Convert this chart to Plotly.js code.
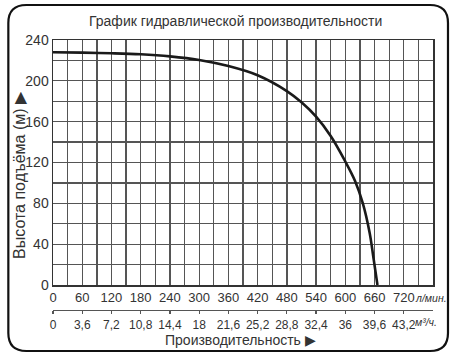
<!DOCTYPE html>
<html><head><meta charset="utf-8">
<script src="https://cdn.plot.ly/plotly-3.0.1.min.js"></script>
<style>body{margin:0;background:#fff}#c{width:456px;height:361px}</style>
</head><body><div id="c"></div>
<script>
// Data
var flowLpm = [0, 60, 120, 180, 240, 300, 360, 420, 480, 510, 540, 570, 600, 620, 636, 650, 658, 666];
var headM   = [228, 227.6, 227, 226, 224, 220.5, 214.5, 205.5, 190, 179, 165, 146, 121, 102, 80, 51, 26, 0];
var lpmTicks = [0, 60, 120, 180, 240, 300, 360, 420, 480, 540, 600, 660, 720];
var lpmLabels = ['0','60','120','180','240','300','360','420','480','540','600','660','720'];
var m3hTicks = [0, 3.6, 7.2, 10.8, 14.4, 18, 21.6, 25.2, 28.8, 32.4, 36, 39.6, 43.2];
var m3hLabels = ['0','3,6','7,2','10,8','14,4','18','21,6','25,2','28,8','32,4','36','39,6','43,2'];
var headTicks = [0, 40, 80, 120, 160, 200, 240];

var FONT = '"Liberation Sans", Arial, sans-serif';
var TXT = '#333';
var gridC = '#555555';

var traces = [
  {x: flowLpm, y: headM, type: 'scatter', mode: 'lines',
   line: {color: '#1a1a1a', width: 2.6, shape: 'spline', smoothing: 1},
   xaxis: 'x', yaxis: 'y', hoverinfo: 'skip'},
  {x: [0, 46.8], y: [null, null], type: 'scatter', mode: 'lines',
   xaxis: 'x2', yaxis: 'y', showlegend: false, hoverinfo: 'skip'},
  {x: [0, 780], y: [null, null], type: 'scatter', mode: 'lines',
   xaxis: 'x3', yaxis: 'y2', showlegend: false, hoverinfo: 'skip'}
];

var layout = {
  width: 456, height: 361,
  margin: {l: 52.7, r: 23, t: 40, b: 31},
  paper_bgcolor: '#fff', plot_bgcolor: '#fff',
  showlegend: false,
  font: {family: FONT, color: TXT, size: 13},
  xaxis: {
    range: [0, 780], tickvals: lpmTicks, ticktext: lpmLabels, tickangle: 0,
    showgrid: false,
    showline: true, linecolor: '#333', linewidth: 1.5, mirror: true,
    ticks: '', zeroline: false, tickfont: {size: 13, color: TXT},
    anchor: 'y'
  },
  xaxis2: {
    range: [0, 46.8], tickvals: m3hTicks, ticktext: m3hLabels, tickangle: 0,
    overlaying: 'x', anchor: 'free', position: 0.069, side: 'bottom',
    showline: true, linecolor: '#555', linewidth: 1.5,
    ticks: 'outside', ticklen: 3, tickcolor: '#555', tickwidth: 1.2,
    showgrid: false, zeroline: false, tickfont: {size: 12, color: TXT}
  },
  // grid-only axes (uniform 30 l/min x 20 m cells)
  xaxis3: {
    range: [0, 780], dtick: 30, tick0: 0, overlaying: 'x', anchor: 'y2',
    showgrid: true, gridcolor: gridC, gridwidth: 1.3,
    showticklabels: false, ticks: '', showline: false, zeroline: false
  },
  yaxis2: {
    range: [0, 240], dtick: 20, tick0: 0, overlaying: 'y', anchor: 'x3',
    showgrid: true, gridcolor: gridC, gridwidth: 1.3,
    showticklabels: false, ticks: '', showline: false, zeroline: false
  },
  yaxis: {
    domain: [0.155, 1], range: [0, 240], tickvals: headTicks,
    showgrid: false,
    showline: true, linecolor: '#333', linewidth: 1.5, mirror: true,
    ticks: '', zeroline: false, tickfont: {size: 14, color: TXT}
  },
  annotations: [
    {text: 'График гидравлической производительности', xref: 'paper', yref: 'paper',
     x: 0.479, y: 1.0, yanchor: 'middle', yshift: 19, showarrow: false, font: {size: 14, color: TXT}},
    {text: 'Высота подъёма (м) ▶', xref: 'paper', yref: 'paper', textangle: -90,
     x: -0.09, y: 0.534, xanchor: 'center', yanchor: 'middle', showarrow: false, font: {size: 16, color: TXT}},
    {text: 'Производительность ▶', xref: 'paper', yref: 'paper',
     x: 0.493, y: 0, yanchor: 'middle', yshift: -10, showarrow: false, font: {size: 14, color: TXT}},
    {text: '<i>л/мин.</i>', xref: 'paper', yref: 'paper',
     x: 0.948, y: 0.110, xanchor: 'left', yanchor: 'middle', showarrow: false, font: {size: 10.5, color: TXT}},
    {text: '<i>м³/ч.</i>', xref: 'paper', yref: 'paper',
     x: 0.948, y: 0.028, xanchor: 'left', yanchor: 'middle', showarrow: false, font: {size: 10.5, color: TXT}}
  ],
  shapes: []
};

// rounded frame, pixel positions converted to paper coords
function px(x){ return (x - 52.7) / (456 - 52.7 - 23); }
function py(y){ return (330 - y) / (361 - 40 - 31); }
var L = 8, R = 448, T = 5, B = 351, rad = 18;
var path = 'M ' + px(L + rad) + ',' + py(T) +
  ' L ' + px(R - rad) + ',' + py(T) +
  ' Q ' + px(R) + ',' + py(T) + ' ' + px(R) + ',' + py(T + rad) +
  ' L ' + px(R) + ',' + py(B - rad) +
  ' Q ' + px(R) + ',' + py(B) + ' ' + px(R - rad) + ',' + py(B) +
  ' L ' + px(L + rad) + ',' + py(B) +
  ' Q ' + px(L) + ',' + py(B) + ' ' + px(L) + ',' + py(B - rad) +
  ' L ' + px(L) + ',' + py(T + rad) +
  ' Q ' + px(L) + ',' + py(T) + ' ' + px(L + rad) + ',' + py(T) + ' Z';
layout.shapes.push({type: 'path', xref: 'paper', yref: 'paper', path: path,
  line: {color: '#111', width: 2.2}, layer: 'below'});

Plotly.newPlot('c', traces, layout, {staticPlot: true, displayModeBar: false});
</script></body></html>
